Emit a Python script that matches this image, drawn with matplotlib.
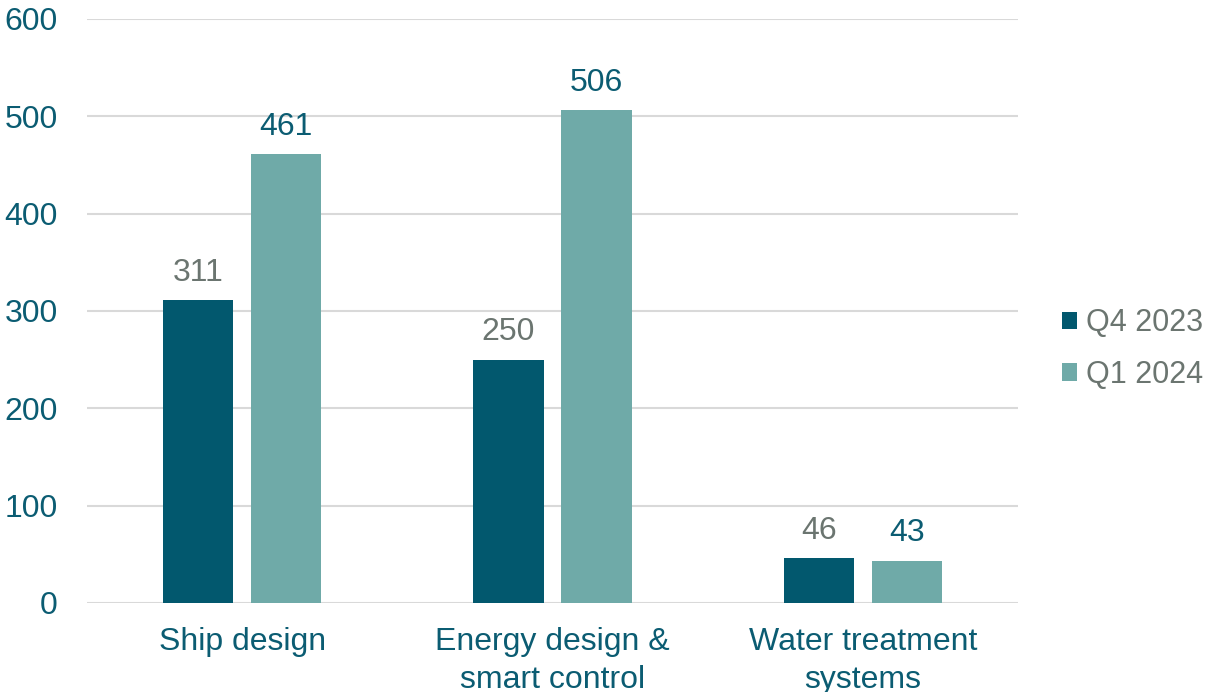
import numpy as np
import matplotlib.pyplot as plt

plt.rcParams['font.family'] = ['Liberation Sans', 'DejaVu Sans']

categories = ["Ship design", "Energy design &\nsmart control", "Water treatment\nsystems"]
series_names = ["Q4 2023", "Q1 2024"]
q4_2023 = [311, 250, 46]
q1_2024 = [461, 506, 43]

dark = "#02586E"
light = "#6FAAA8"
teal_text = "#0B5C72"
gray_text = "#6B7570"

fig = plt.figure(figsize=(12.08, 6.92), dpi=100)
ax = fig.add_axes([87 / 1208, 1 - 603 / 692, 931 / 1208, 584 / 692])

x = np.arange(len(categories))
w = 0.226
off = 0.142
b1 = ax.bar(x - off, q4_2023, w, color=dark, label=series_names[0], zorder=3)
b2 = ax.bar(x + off, q1_2024, w, color=light, label=series_names[1], zorder=3)

# value labels above the bars
for rect, v in zip(b1, q4_2023):
    ax.text(rect.get_x() + rect.get_width() / 2, v + 13, str(v), ha='center', va='bottom',
            fontsize=23, color=gray_text)
for rect, v in zip(b2, q1_2024):
    ax.text(rect.get_x() + rect.get_width() / 2, v + 13, str(v), ha='center', va='bottom',
            fontsize=23, color=teal_text)

ax.set_xlim(-0.5, 2.5)
ax.set_ylim(0, 600)
ax.set_yticks(range(0, 601, 100))
ax.set_xticks(x)
ax.set_xticklabels(categories, linespacing=1.35)
ax.tick_params(axis='both', length=0, labelsize=23, colors=teal_text)
ax.tick_params(axis='y', pad=21)
ax.tick_params(axis='x', pad=17)

ax.grid(axis='y', color='#D9D9D9', linewidth=1.5, zorder=0)
for s in ax.spines.values():
    s.set_visible(False)

leg = ax.legend(loc='center left', bbox_to_anchor=(1.047, 0.435), frameon=False,
                fontsize=22, handlelength=0.5, handleheight=0.5, handletextpad=0.3,
                labelspacing=0.7, borderpad=0, borderaxespad=0)
for t in leg.get_texts():
    t.set_color(gray_text)

fig.savefig("out.png", dpi=100)
